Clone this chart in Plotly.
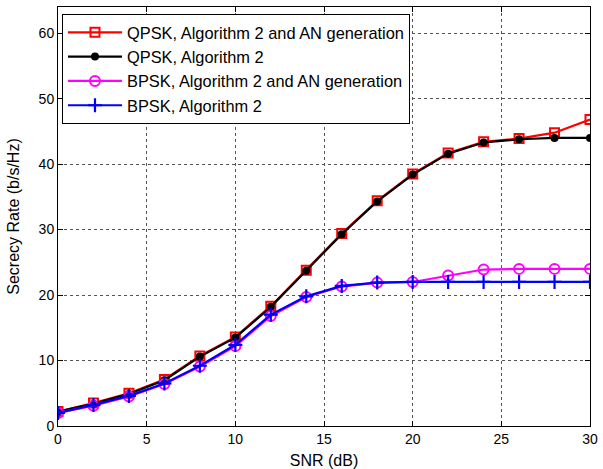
import plotly.graph_objects as go

snr = [0, 2, 4, 6, 8, 10, 12, 14, 16, 18, 20, 22, 24, 26, 28, 30]
qpsk_an = [2.2, 3.5, 5.0, 7.1, 10.7, 13.6, 18.3, 23.8, 29.4, 34.4, 38.5, 41.7, 43.4, 43.9, 44.8, 46.8]
qpsk_alg2 = [2.2, 3.4, 4.9, 7.0, 10.6, 13.5, 18.2, 23.7, 29.3, 34.3, 38.4, 41.6, 43.3, 43.8, 44.0, 44.0]
bpsk_an = [2.0, 3.1, 4.5, 6.4, 9.1, 12.2, 16.8, 19.7, 21.3, 21.9, 22.0, 23.0, 23.9, 24.0, 24.0, 24.0]
bpsk_alg2 = [2.0, 3.2, 4.6, 6.5, 9.2, 12.4, 17.0, 19.8, 21.4, 21.9, 22.0, 22.0, 22.0, 22.0, 22.0, 22.0]

names = ["QPSK, Algorithm 2 and AN generation", "QPSK, Algorithm 2",
         "BPSK, Algorithm 2 and AN generation", "BPSK, Algorithm 2"]

FONT = "Liberation Sans, Arial"

fig = go.Figure()
fig.add_trace(go.Scatter(x=snr, y=qpsk_an, name=names[0], mode="lines+markers",
                         line=dict(color="#ff0000", width=2.2),
                         marker=dict(symbol="square-open", size=9, color="#ff0000", line=dict(width=2, color="#ff0000"))))
fig.add_trace(go.Scatter(x=snr, y=qpsk_alg2, name=names[1], mode="lines+markers",
                         line=dict(color="#000000", width=2.2),
                         marker=dict(symbol="circle", size=8, color="#000000")))
fig.add_trace(go.Scatter(x=snr, y=bpsk_an, name=names[2], mode="lines+markers",
                         line=dict(color="#ff00ff", width=2.2),
                         marker=dict(symbol="circle-open", size=10, color="#ff00ff", line=dict(width=2, color="#ff00ff"))))
fig.add_trace(go.Scatter(x=snr, y=bpsk_alg2, name=names[3], mode="lines+markers",
                         line=dict(color="#0000ff", width=2.2),
                         marker=dict(symbol="cross-thin-open", size=10, color="#0000ff", line=dict(width=2.2, color="#0000ff"))))

axis_common = dict(showline=True, linecolor="black", linewidth=1, mirror="ticks",
                   ticks="inside", ticklen=5, tickcolor="black",
                   showgrid=True, gridcolor="#555555", griddash="dot", gridwidth=1,
                   zeroline=False, automargin=False,
                   tickfont=dict(family=FONT, size=14, color="black"))

fig.update_xaxes(range=[0, 30], tickvals=[0, 5, 10, 15, 20, 25, 30],
                 title=dict(text="SNR (dB)", font=dict(family=FONT, size=16, color="black")),
                 **axis_common)
fig.update_yaxes(range=[0, 64], tickvals=[0, 10, 20, 30, 40, 50, 60],
                 title=dict(text="Secrecy Rate (b/s/Hz)", font=dict(family=FONT, size=16, color="black")),
                 **axis_common)

fig.update_layout(
    width=603, height=469,
    margin=dict(l=58, r=13, t=7, b=43),
    plot_bgcolor="white", paper_bgcolor="white",
    showlegend=True,
    legend=dict(x=0.0075, y=0.983, xanchor="left", yanchor="top",
                bgcolor="white", bordercolor="black", borderwidth=1,
                font=dict(family=FONT, size=16.4, color="black"),
                tracegroupgap=0, itemwidth=54),
)

fig.write_html("out.html", config={"displayModeBar": False},
               post_script="document.body.style.margin='0';document.body.style.overflow='hidden';")
